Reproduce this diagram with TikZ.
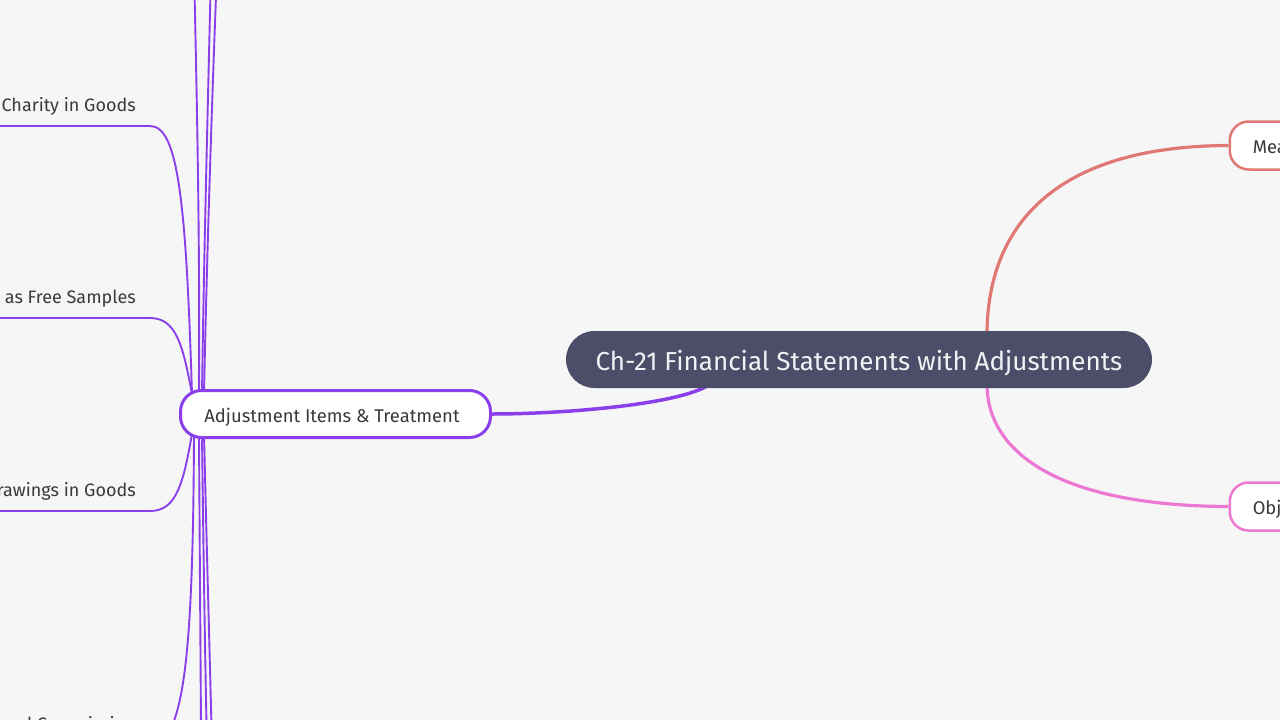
\documentclass[tikz,border=0pt]{standalone}
\usepackage{fontspec}
\setmainfont{Fira Sans}
\definecolor{bgc}{HTML}{F6F6F6}
\definecolor{purp}{HTML}{8B3FEA}
\definecolor{titlebg}{HTML}{4B4D69}
\definecolor{salmon}{HTML}{E07874}
\definecolor{pinkc}{HTML}{EC78D4}
\definecolor{txt}{HTML}{3A3A3A}
\definecolor{titletxt}{HTML}{F2F2F5}
\pgfdeclarelayer{bglayer}
\pgfdeclarelayer{edges}
\pgfsetlayers{bglayer,edges,main}
\newcommand{\lowtext}[3]{\raisebox{#1}[0pt][0pt]{\makebox[0pt]{\hspace*{#2}#3}}}
\begin{document}
\begin{tikzpicture}[x=1pt,y=-1pt,
  titlebox/.style={fill=titlebg,text=titletxt,rounded corners=28.5pt,minimum width=586pt,minimum height=57pt,inner sep=0pt,font=\fontsize{26}{30}\selectfont},
  mainbox/.style={draw=purp,line width=3pt,fill=white,rounded corners=21pt,minimum width=310pt,minimum height=47pt,inner sep=0pt,text=txt,font=\fontsize{18.4}{22}\selectfont},
  sidebox/.style={line width=2.5pt,fill=white,rounded corners=19pt,minimum height=48pt,inner xsep=23pt,inner ysep=0pt,anchor=west,text=txt,font=\fontsize{18.4}{22}\selectfont},
  leaf/.style={anchor=east,inner sep=0pt,text=txt,font=\fontsize{18}{22}\selectfont},
  leafline/.style={draw=purp,line width=1.9pt},
  thickline/.style={line width=3.2pt}
]
\useasboundingbox (0,0) rectangle (1280,720);
\begin{pgfonlayer}{bglayer}
\fill[bgc] (0,0) rectangle (1280,720);
\end{pgfonlayer}

\node[titlebox] (title) at (859,359.5) {\lowtext{-11pt}{0pt}{Ch-21 Financial Statements with Adjustments}};
\node[mainbox] (adj) at (335.5,414) {\lowtext{-8.5pt}{-7pt}{Adjustment Items \& Treatment}};
\node[sidebox,draw=salmon] (mea) at (1228.5,145.5) {\raisebox{-8pt}[0pt][0pt]{Meaning of Adjustments}};
\node[sidebox,draw=pinkc] (obj) at (1228.5,506.5) {\raisebox{-8pt}[0pt][0pt]{Objectives of Adjustments}};

\node[leaf] (charity) at (136,106) {Charity in Goods};
\node[leaf] (samples) at (136,298) {Goods Distributed as Free Samples};
\node[leaf] (drawings) at (136,491) {Drawings in Goods};
\node[leaf] (comm) at (136,724) {Accrued Commission};

\coordinate (chU) at (150,126);
\coordinate (saU) at (150,318);
\coordinate (drU) at (150,511);
\coordinate (coU) at (150,745);
\coordinate (up1) at (194,-30);
\coordinate (up2) at (211,-30);
\coordinate (up3) at (217,-30);
\coordinate (dn1) at (201,750);
\coordinate (dn2) at (207,750);
\coordinate (dn3) at (212,750);

\begin{pgfonlayer}{edges}
\draw[thickline,salmon] ([xshift=128pt,yshift=-4pt]title.north) .. controls (987,230) and (1050,146) .. (mea.west);
\draw[thickline,pinkc] ([xshift=128pt,yshift=4pt]title.south) .. controls (987,453) and (1060,506) .. (obj.west);
\draw[thickline,purp,line width=3.5pt] ([xshift=-149pt,yshift=4pt]title.south) .. controls (680,405) and (560,414) .. (adj.east);

\draw[leafline] ([xshift=13pt,yshift=-5pt]adj.north west) .. controls (186,200) and (178,126) .. (chU) -- ([xshift=-10pt]chU -| charity.west);
\draw[leafline] ([xshift=13pt,yshift=-5pt]adj.north west) .. controls (183,345) and (176,318) .. (saU) -- ([xshift=-10pt]saU -| samples.west);
\draw[leafline] ([xshift=13pt,yshift=5pt]adj.south west) .. controls (183,485) and (176,511) .. (drU) -- ([xshift=-10pt]drU -| drawings.west);
\draw[leafline] ([xshift=15pt,yshift=5pt]adj.south west) .. controls (193,650) and (185,745) .. (coU) -- ([xshift=-10pt]coU -| comm.west);

\draw[leafline] ([xshift=20pt,yshift=-5pt]adj.north west) .. controls (200,250) and (197,100) .. (up1);
\draw[leafline] ([xshift=23pt,yshift=-5pt]adj.north west) .. controls (204,250) and (208,100) .. (up2);
\draw[leafline] ([xshift=25pt,yshift=-5pt]adj.north west) .. controls (207,250) and (212,100) .. (up3);
\draw[leafline] ([xshift=20pt,yshift=5pt]adj.south west) .. controls (200,600) and (201,700) .. (dn1);
\draw[leafline] ([xshift=23pt,yshift=5pt]adj.south west) .. controls (204,600) and (206,700) .. (dn2);
\draw[leafline] ([xshift=25pt,yshift=5pt]adj.south west) .. controls (208,600) and (211,700) .. (dn3);
\end{pgfonlayer}
\end{tikzpicture}
\end{document}
